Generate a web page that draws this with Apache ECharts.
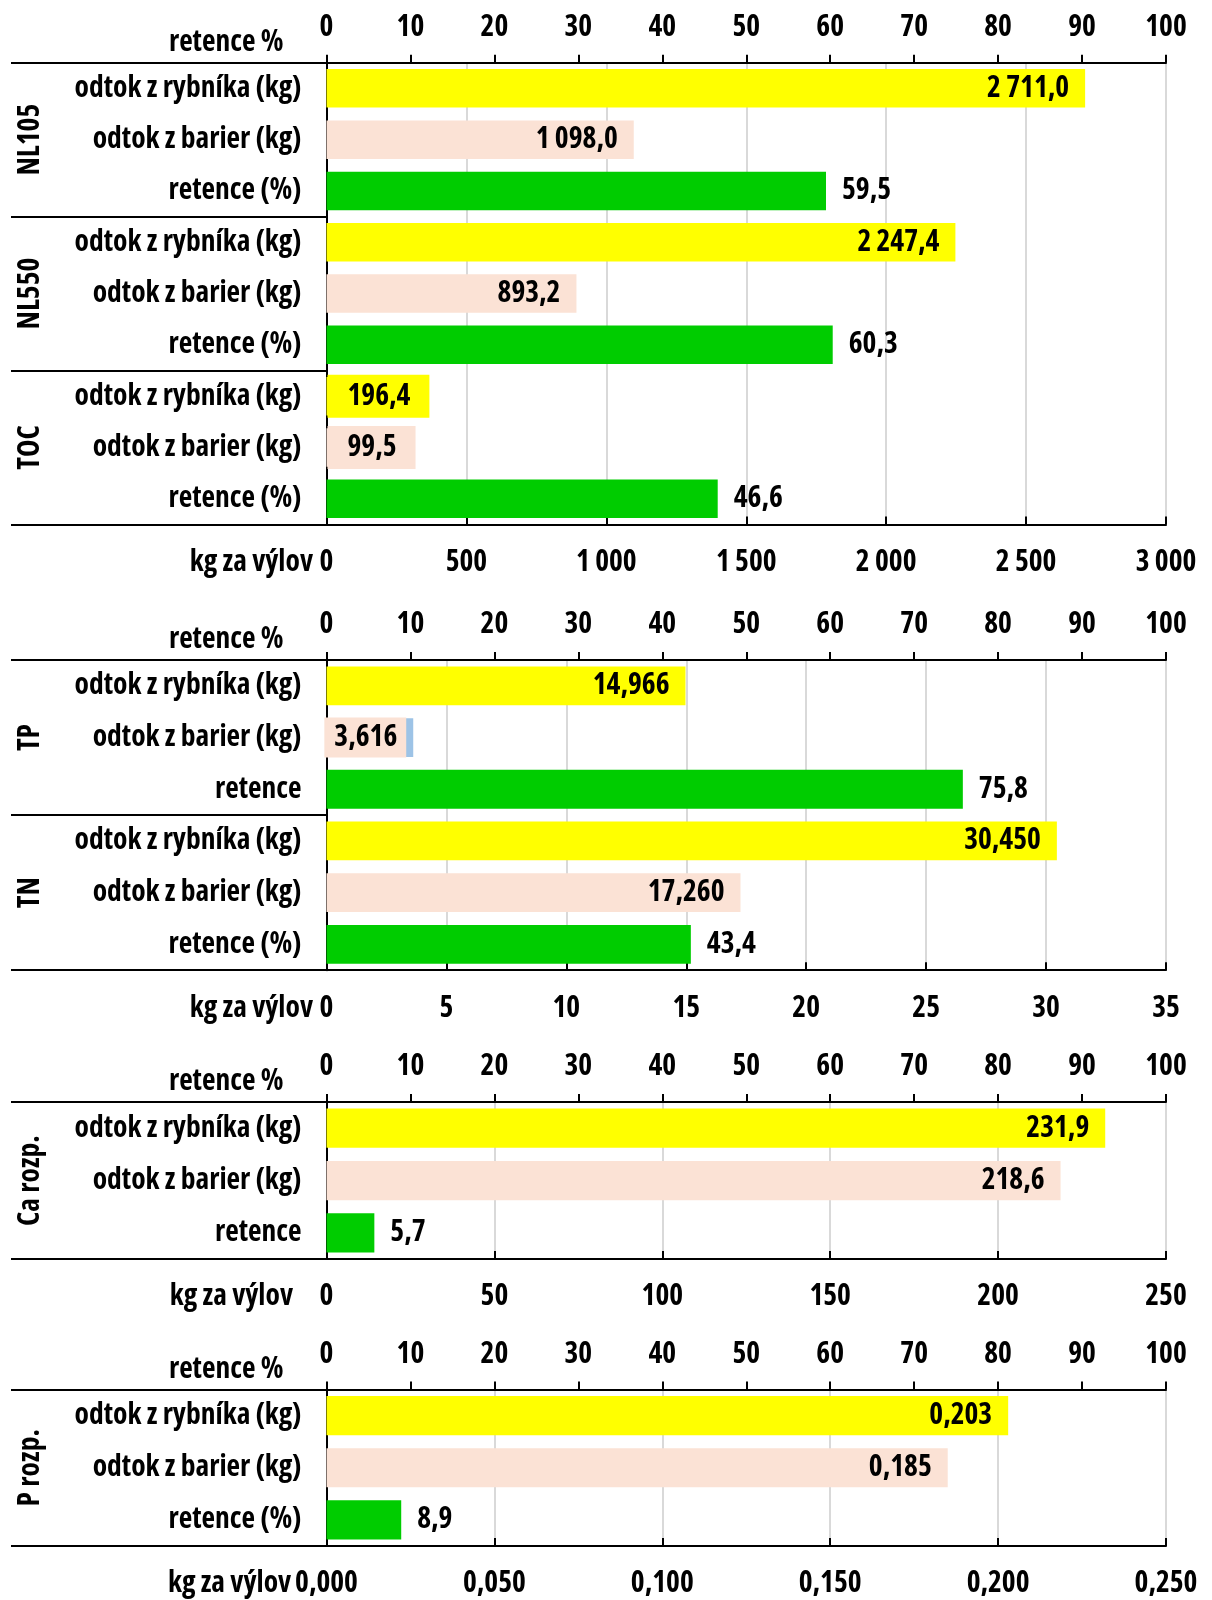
<!DOCTYPE html>
<html>
<head>
<meta charset="utf-8">
<script src="https://cdn.jsdelivr.net/npm/echarts@6/dist/echarts.min.js"></script>
<style>
  html, body { margin: 0; padding: 0; background: #ffffff; }
  #chart { width: 1212px; height: 1600px; }
</style>
</head>
<body>
<div id="chart"></div>
<script>
// ---- values per panel ----
const rowPond = 'odtok z rybníka (kg)';
const rowBarrier = 'odtok z barier (kg)';

const panel1Groups = ['NL105', 'NL550', 'TOC'];
const panel1Pond = [2711.0, 2247.4, 196.4];
const panel1Barrier = [1098.0, 893.2, 99.5];
const panel1Retention = [59.5, 60.3, 46.6];
const panel1RetentionRows = ['retence (%)', 'retence (%)', 'retence (%)'];
const panel1KgTicks = [0, 500, 1000, 1500, 2000, 2500, 3000];

const panel2Groups = ['TP', 'TN'];
const panel2Pond = [14.966, 30.450];
const panel2Barrier = [3.616, 17.260];
const panel2Retention = [75.8, 43.4];
const panel2RetentionRows = ['retence', 'retence (%)'];
const panel2KgTicks = [0, 5, 10, 15, 20, 25, 30, 35];

const panel3Groups = ['Ca rozp.'];
const panel3Pond = [231.9];
const panel3Barrier = [218.6];
const panel3Retention = [5.7];
const panel3RetentionRows = ['retence'];
const panel3KgTicks = [0, 50, 100, 150, 200, 250];

const panel4Groups = ['P rozp.'];
const panel4Pond = [0.203];
const panel4Barrier = [0.185];
const panel4Retention = [8.9];
const panel4RetentionRows = ['retence (%)'];
const panel4KgTicks = [0, 0.05, 0.10, 0.15, 0.20, 0.25];

const retentionTicks = [0, 10, 20, 30, 40, 50, 60, 70, 80, 90, 100];

// ---- typeface: the narrowest installed bold sans, sized so the longest row label is ~226 px ----
const BASE_SIZE = 28;
const ROW_TEXT_WIDTH = 226;
function chooseFace() {
  const ctx = document.createElement('canvas').getContext('2d');
  const measure = spec => {
    ctx.font = '10px monospace';
    ctx.font = spec;
    if (ctx.font === '10px monospace') return null;
    return ctx.measureText(rowPond).width;
  };
  const mono = measure('bold ' + BASE_SIZE + 'px monospace');
  const faces = [
    { stretch: '', family: '"Liberation Sans Narrow"' },
    { stretch: '', family: '"Arial Narrow"' },
    { stretch: '', family: '"Roboto Condensed"' },
    { stretch: '', family: '"Noto Sans Condensed"' },
    { stretch: 'condensed', family: '"Noto Sans"' },
    { stretch: 'condensed', family: '"Open Sans"' },
    { stretch: 'semi-condensed', family: '"Noto Sans"' },
    { stretch: '', family: '"DejaVu Sans Condensed"' },
    { stretch: '', family: 'Roboto' },
    { stretch: '', family: '"Liberation Sans"' }
  ];
  let best = null;
  faces.forEach(f => {
    const w = measure((f.stretch ? f.stretch + ' ' : '') + 'bold ' + BASE_SIZE + 'px ' + f.family + ', monospace');
    if (w == null || Math.abs(w - mono) < 0.5) return;
    if (f.stretch) {
      const plain = measure('bold ' + BASE_SIZE + 'px ' + f.family + ', monospace');
      if (plain == null || w > plain - 3) return;
    }
    if (!best || w < best.w) best = { ...f, w };
  });
  if (!best) best = { stretch: '', family: 'sans-serif', w: ROW_TEXT_WIDTH };
  let size = Math.round(BASE_SIZE * ROW_TEXT_WIDTH / best.w * 2) / 2;
  size = Math.max(22, Math.min(31, size));
  return { family: best.family + ', sans-serif', style: best.stretch || 'normal', size };
}
const FACE = chooseFace();
const TXT = { fontFamily: FACE.family, fontStyle: FACE.style, fontWeight: 'bold', fontSize: FACE.size, color: '#000000' };
const FONT_STRING = FACE.style + ' bold ' + FACE.size + 'px ' + FACE.family;
const NUDGE = [12, 0, 0, 0];   // drops single-line labels a little below the row centre

// ---- look ----
const YELLOW = '#FFFF00';
const PEACH = '#FBE2D5';
const GREEN = '#00CC00';
const BLUE = '#9DC3E6';
const GRID_GREY = '#D9D9D9';
const PLOT_LEFT = 326.5;
const PLOT_RIGHT = 46;
const GROUP_LABEL_X = 31;

const panels = [
  { groups: panel1Groups, pond: panel1Pond, barrier: panel1Barrier, retention: panel1Retention,
    retRows: panel1RetentionRows, kgTicks: panel1KgTicks, valueDec: 1, tickDec: 0,
    top: 62.7, height: 461.7, kgNameGap: 13.5 },
  { groups: panel2Groups, pond: panel2Pond, barrier: panel2Barrier, retention: panel2Retention,
    retRows: panel2RetentionRows, kgTicks: panel2KgTicks, valueDec: 3, tickDec: 0,
    top: 660, height: 310.2, kgNameGap: 13.5 },
  { groups: panel3Groups, pond: panel3Pond, barrier: panel3Barrier, retention: panel3Retention,
    retRows: panel3RetentionRows, kgTicks: panel3KgTicks, valueDec: 1, tickDec: 0,
    top: 1102, height: 157, kgNameGap: 33.5 },
  { groups: panel4Groups, pond: panel4Pond, barrier: panel4Barrier, retention: panel4Retention,
    retRows: panel4RetentionRows, kgTicks: panel4KgTicks, valueDec: 3, tickDec: 3,
    top: 1389.5, height: 157, kgNameGap: 33.5 }
];

// Czech number style: space as thousands separator, comma as decimal mark
function czNumber(v, decimals) {
  const parts = (Math.round(v * 1e6) / 1e6).toFixed(decimals).split('.');
  const int = parts[0].replace(/\B(?=(\d{3})+(?!\d))/g, ' ');
  return parts.length > 1 ? int + ',' + parts[1] : int;
}

// the TP barrier bar is filled blue, its label keeps the peach box
function barrierFill(group) { return group === 'TP' ? BLUE : PEACH; }

function kgItem(value, fill, boxColor, p) {
  const kgMax = p.kgTicks[p.kgTicks.length - 1];
  const label = { show: true, ...TXT, formatter: () => czNumber(value, p.valueDec) };
  if (value / kgMax < 0.08) {
    // too short for the text: boxed label starting at the axis
    Object.assign(label, { position: 'insideLeft', distance: 1, backgroundColor: boxColor,
      padding: [11, 19, 2, 20], lineHeight: 30 });
  } else if (fill !== boxColor) {
    Object.assign(label, { position: 'insideRight', distance: 7, backgroundColor: boxColor,
      padding: [9, 9, 1, 10], lineHeight: 30 });
  } else {
    Object.assign(label, { position: 'insideRight', distance: 16, padding: NUDGE });
  }
  return { value, itemStyle: { color: fill }, label };
}

const grids = [], xAxes = [], yAxes = [], series = [];

panels.forEach((p, k) => {
  grids.push({ left: PLOT_LEFT, right: PLOT_RIGHT, top: p.top, height: p.height });

  const cats = [];
  p.groups.forEach((g, i) => cats.push(rowPond, rowBarrier, p.retRows[i]));

  // retention % axis along the top
  xAxes.push({
    type: 'value', gridIndex: k, position: 'top',
    min: retentionTicks[0], max: retentionTicks[retentionTicks.length - 1],
    interval: retentionTicks[1] - retentionTicks[0],
    name: 'retence %', nameLocation: 'start', nameGap: 43,
    nameTextStyle: { ...TXT, align: 'right', verticalAlign: 'bottom', lineHeight: 32, padding: [0, 0, 4, 0] },
    axisLine: { show: true, onZero: false, lineStyle: { color: '#000', width: 2 } },
    axisTick: { show: true, inside: false, length: 8, lineStyle: { color: '#000', width: 2 } },
    axisLabel: { ...TXT, margin: 20 },
    splitLine: { show: false }
  });

  // kg per harvest axis along the bottom
  const kgMin = p.kgTicks[0];
  const kgMax = p.kgTicks[p.kgTicks.length - 1];
  xAxes.push({
    type: 'value', gridIndex: k, position: 'bottom',
    min: kgMin, max: kgMax, interval: p.kgTicks[1] - p.kgTicks[0],
    name: 'kg za výlov', nameLocation: 'start', nameGap: p.kgNameGap,
    nameTextStyle: { ...TXT, align: 'right', verticalAlign: 'top', lineHeight: 32, padding: [22, 0, 0, 0] },
    axisLine: { show: true, onZero: false, lineStyle: { color: '#000', width: 2 } },
    axisTick: { show: true, inside: true, length: 8, lineStyle: { color: '#000', width: 2 } },
    axisLabel: { ...TXT, margin: 23, formatter: v => czNumber(v, p.tickDec) },
    splitLine: { show: true, lineStyle: { color: GRID_GREY, width: 2 } }
  });

  // row labels; long ticks on group boundaries draw the separators
  yAxes.push({
    type: 'category', gridIndex: k, inverse: true, data: cats,
    axisLine: { show: true, onZero: false, lineStyle: { color: '#000', width: 2 } },
    axisTick: { show: true, length: PLOT_LEFT - 11, interval: i => i % 3 === 0,
      lineStyle: { color: '#000', width: 2 } },
    axisLabel: { ...TXT, margin: 25, interval: 0, padding: NUDGE },
    splitLine: { show: false }
  });

  const kgData = [];
  const retData = [];
  p.groups.forEach((g, i) => {
    kgData.push(kgItem(p.pond[i], YELLOW, YELLOW, p));
    kgData.push(kgItem(p.barrier[i], barrierFill(g), PEACH, p));
    kgData.push('-');
    retData.push('-', '-', p.retention[i]);
  });

  series.push({
    type: 'bar', name: 'kg', xAxisIndex: 2 * k + 1, yAxisIndex: k,
    barGap: '-100%', barCategoryGap: '25%', data: kgData, animation: false
  });
  series.push({
    type: 'bar', name: 'retence', xAxisIndex: 2 * k, yAxisIndex: k,
    barGap: '-100%', barCategoryGap: '25%', itemStyle: { color: GREEN },
    label: { show: true, position: 'right', distance: 16, ...TXT, padding: NUDGE,
      formatter: prm => czNumber(prm.value, 1) },
    data: retData, animation: false
  });
});

const chart = echarts.init(document.getElementById('chart'), null, { renderer: 'canvas' });
chart.setOption({
  backgroundColor: '#ffffff',
  animation: false,
  textStyle: { fontFamily: FACE.family },
  grid: grids, xAxis: xAxes, yAxis: yAxes, series
});

// vertical group names, centred on each group's middle row
const groupTexts = [];
panels.forEach((p, k) => {
  p.groups.forEach((g, i) => {
    const y = chart.convertToPixel({ yAxisIndex: k }, i * 3 + 1);
    groupTexts.push({
      type: 'text', x: GROUP_LABEL_X, y, rotation: Math.PI / 2,
      style: { text: g, font: FONT_STRING, fill: '#000', align: 'center', verticalAlign: 'middle' }
    });
  });
});
chart.setOption({ graphic: groupTexts });
</script>
</body>
</html>
